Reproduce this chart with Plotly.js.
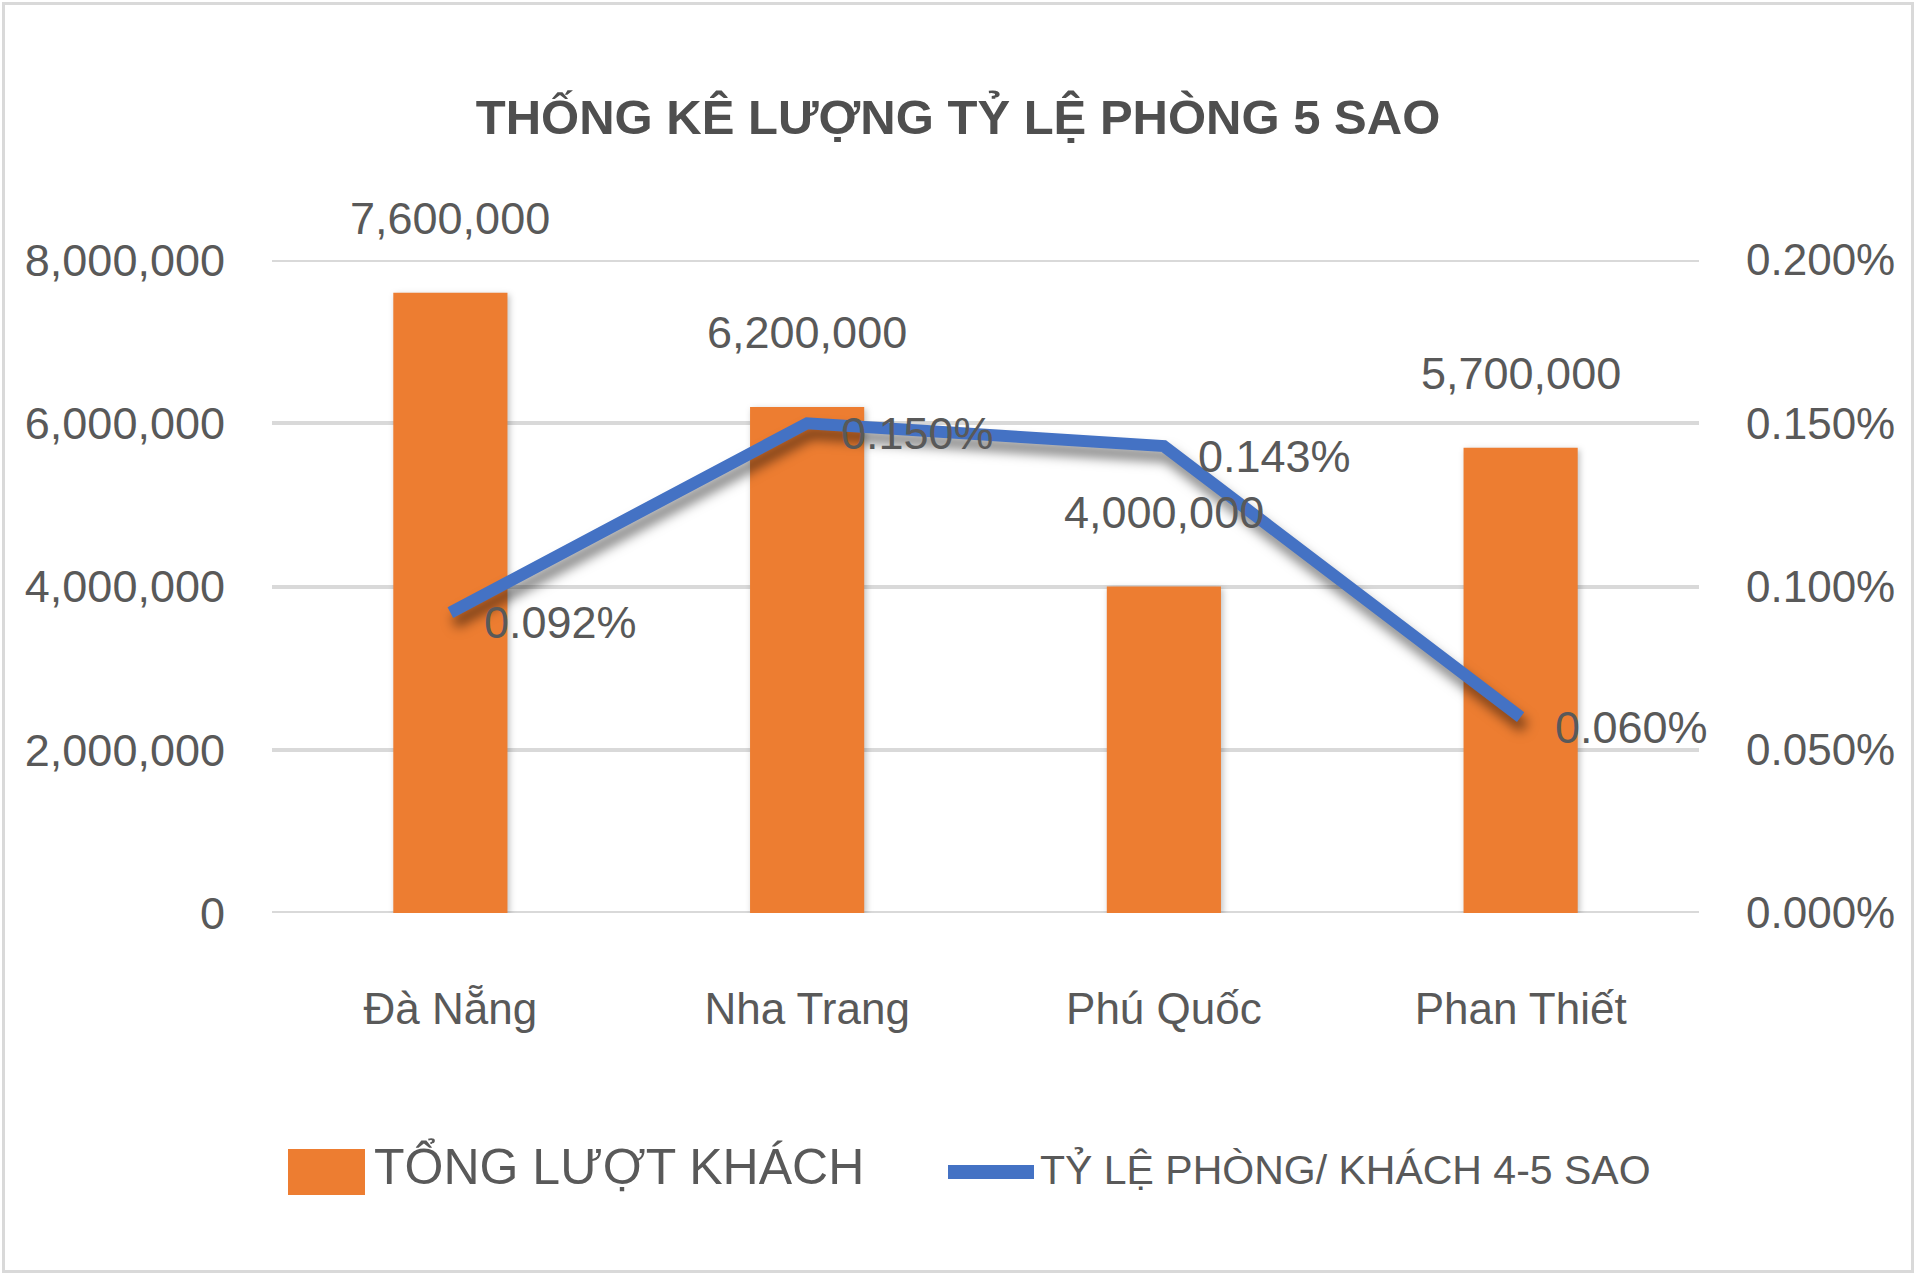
<!DOCTYPE html>
<html>
<head>
<meta charset="utf-8">
<script src="https://cdn.plot.ly/plotly-3.0.1.min.js"></script>
<style>
  html, body { margin: 0; padding: 0; background: #ffffff; }
  #frame { position: absolute; left: 2px; top: 2px; width: 1912px; height: 1271px; border: 3px solid #d9d9d9; box-sizing: border-box; pointer-events: none; }
  #chart { position: absolute; left: 0; top: 0; width: 1920px; height: 1281px; }
</style>
</head>
<body>
<div id="chart"></div>
<div id="frame"></div>
<script>
// ---- data ----
const categories = ["Đà Nẵng", "Nha Trang", "Phú Quốc", "Phan Thiết"];
const totalGuests = [7600000, 6200000, 4000000, 5700000];
const roomRatio = [0.00092, 0.00150, 0.00143, 0.00060];
const leftTicks = [0, 2000000, 4000000, 6000000, 8000000];
const rightTicks = [0, 0.0005, 0.0010, 0.0015, 0.0020];
const seriesNames = ["TỔNG LƯỢT KHÁCH", "TỶ LỆ PHÒNG/ KHÁCH 4-5 SAO"];
const chartTitle = "THỐNG KÊ LƯỢNG TỶ LỆ PHÒNG 5 SAO";

// ---- style ----
const FONT = '"Liberation Sans", Arial, sans-serif';
const GREY = '#595959';
const ORANGE = '#ED7D31';
const BLUE = '#4472C4';
const GRID = '#D9D9D9';
const W = 1920, H = 1281;
const M = {l: 272, r: 221, t: 260, b: 368};
const pw = W - M.l - M.r, ph = H - M.t - M.b;
const px = v => (v - M.l) / pw;      // pixel -> paper x
const py = v => (H - M.b - v) / ph;   // pixel -> paper y

function fmtInt(n) { return n.toString().replace(/\B(?=(\d{3})+(?!\d))/g, ','); }
function fmtPct(v) { return (v * 100).toFixed(3) + '%'; }

const barTrace = {
  type: 'bar', name: seriesNames[0], x: categories, y: totalGuests,
  marker: {color: ORANGE}, width: 0.32, hoverinfo: 'skip'
};
const lineTrace = {
  type: 'scatter', mode: 'lines', name: seriesNames[1], x: categories, y: roomRatio,
  yaxis: 'y2', line: {color: BLUE, width: 12, shape: 'linear'}, hoverinfo: 'skip'
};

const annotations = [];
categories.forEach((c, i) => {
  annotations.push({x: c, y: totalGuests[i], xref: 'x', yref: 'y', text: fmtInt(totalGuests[i]),
    showarrow: false, yshift: 74, yanchor: 'middle', xanchor: 'center',
    font: {family: FONT, size: 45, color: GREY}});
  annotations.push({x: c, y: roomRatio[i], xref: 'x', yref: 'y2', text: fmtPct(roomRatio[i]),
    showarrow: false, xshift: 32, yshift: -10, xanchor: 'left', yanchor: 'middle',
    font: {family: FONT, size: 45, color: GREY}});
});
// legend (drawn as text + shapes)
annotations.push({xref: 'paper', yref: 'paper', x: px(372), y: py(1166), text: seriesNames[0],
  showarrow: false, xanchor: 'left', yanchor: 'middle', font: {family: FONT, size: 50, color: GREY}});
annotations.push({xref: 'paper', yref: 'paper', x: px(1038), y: py(1170), text: seriesNames[1],
  showarrow: false, xanchor: 'left', yanchor: 'middle', font: {family: FONT, size: 41, color: GREY}});

const shapes = [
  {type: 'rect', xref: 'paper', yref: 'paper', x0: px(288), x1: px(365), y0: py(1195), y1: py(1149),
   fillcolor: ORANGE, line: {width: 0}},
  {type: 'line', xref: 'paper', yref: 'paper', x0: px(948), x1: px(1034), y0: py(1172), y1: py(1172),
   line: {color: BLUE, width: 14}}
];
// gridlines at the range edges (Plotly omits them)
[leftTicks[0], leftTicks[leftTicks.length - 1]].forEach(v => {
  shapes.push({type: 'line', layer: 'below', xref: 'paper', yref: 'y', x0: 0, x1: 1, y0: v, y1: v,
    line: {color: GRID, width: 4}});
});

const layout = {
  width: W, height: H,
  margin: M,
  paper_bgcolor: '#ffffff', plot_bgcolor: '#ffffff',
  showlegend: false,
  title: {text: chartTitle, x: 958 / W, xanchor: 'center', y: 1 - 117 / H, yanchor: 'middle', yref: 'container',
    font: {family: FONT, size: 49, color: '#4F4F4F', weight: 'bold'}},
  font: {family: FONT, color: GREY},
  bargap: 0.68,
  xaxis: {
    type: 'category', range: [-0.5, 3.5], tickfont: {family: FONT, size: 44, color: GREY},
    showgrid: false, showline: false, zeroline: false, ticks: '', ticklabelstandoff: 66
  },
  yaxis: {
    range: [0, 8000000], tickvals: leftTicks, ticktext: leftTicks.map(fmtInt),
    tickfont: {family: FONT, size: 45, color: GREY},
    showgrid: true, gridcolor: GRID, gridwidth: 4, zeroline: false, showline: false,
    ticks: '', ticklabelstandoff: 46
  },
  yaxis2: {
    range: [0, 0.002], overlaying: 'y', side: 'right', tickvals: rightTicks, ticktext: rightTicks.map(fmtPct),
    tickfont: {family: FONT, size: 44, color: GREY},
    showgrid: false, zeroline: false, showline: false, ticks: '', ticklabelstandoff: 46
  },
  annotations: annotations,
  shapes: shapes
};

Plotly.newPlot('chart', [barTrace, lineTrace], layout, {staticPlot: true}).then(() => {
  document.querySelectorAll('.scatterlayer .trace path.js-line').forEach(p => {
    p.style.filter = 'drop-shadow(4px 10px 6px rgba(0,0,0,0.5))';
  });
  document.querySelectorAll('.barlayer .point path').forEach(p => {
    p.style.filter = 'drop-shadow(2px 2px 3px rgba(0,0,0,0.25))';
  });
});
</script>
</body>
</html>
